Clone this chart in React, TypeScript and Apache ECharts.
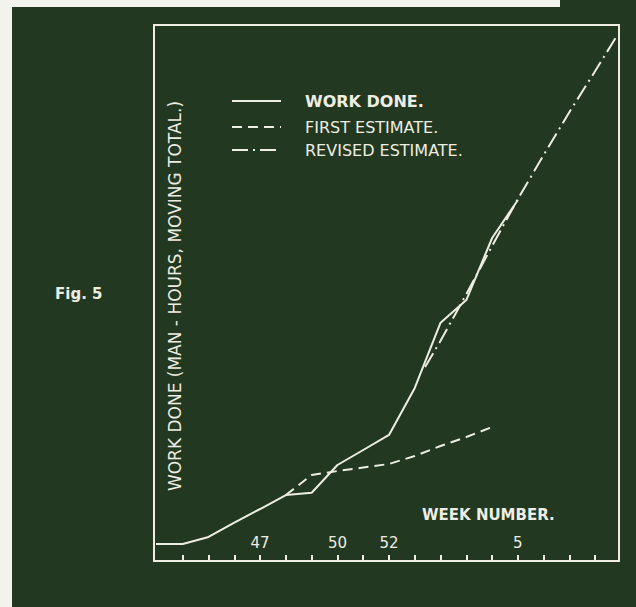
import React, { useEffect, useRef } from "react";
import * as echarts from "echarts";

// Week numbers along the axis (index 0 = week 43 ... index 18 = week 9)
const weekLabels = ["43", "44", "45", "46", "47", "48", "49", "50", "51", "52", "1", "2", "3", "4", "5", "6", "7", "8", "9"];
const tickIndices = [1, 2, 3, 4, 5, 6, 7, 8, 9, 10, 11, 12, 13, 14, 15, 16, 17];
const labelIndices = [4, 7, 9, 14];

// Work done (moving total), arbitrary units 0..100
const workDoneX = [-0.12, 1, 2, 3, 4, 5, 6, 7, 8, 9, 10, 11, 12, 13, 14];
const workDoneY = [3.17, 3.17, 4.48, 7.16, 9.7, 12.31, 12.74, 17.91, 20.71, 23.51, 32.28, 44.46, 48.69, 60.26, 67.35];

const firstEstX = [5, 6, 7, 8, 9, 10, 11, 12, 13];
const firstEstY = [12.31, 16.04, 16.79, 17.44, 18.1, 19.59, 21.46, 23.13, 25.0];

const revisedX = [10.4, 11, 12, 13, 14, 15, 16, 17, 17.86];
const revisedY = [36.19, 41.1, 49.8, 58.77, 67.54, 75.75, 83.77, 91.42, 98.13];

const legendNames = ["WORK DONE.", "FIRST ESTIMATE.", "REVISED ESTIMATE."];
const yAxisTitle = "WORK DONE (MAN - HOURS, MOVING TOTAL.)";
const xAxisTitle = "WEEK NUMBER.";
const figLabel = "Fig. 5";

const INK = "#eeede3";
const BG = "#223820";
const FONT = "DejaVu Sans";

export default function App() {
  const ref = useRef<HTMLDivElement>(null);
  useEffect(() => {
    if (!ref.current) return;
    const chart = echarts.init(ref.current, undefined, { renderer: "svg" });
    const zip = (xs: number[], ys: number[]) => xs.map((x, i) => [x, ys[i]]);
    const dashes: (number[] | null)[] = [null, [10, 6], [16, 5, 2, 5]];
    const legendYs = [101, 127, 150];
    const legendGraphics: any[] = [];
    legendNames.forEach((name, i) => {
      legendGraphics.push({
        type: "line",
        shape: { x1: 232, y1: legendYs[i], x2: 281, y2: legendYs[i] },
        style: { stroke: INK, lineWidth: 2, lineDash: dashes[i] || undefined },
      });
      legendGraphics.push({
        type: "text",
        x: 305,
        y: legendYs[i],
        style: {
          text: name,
          fill: INK,
          font: `${i === 0 ? "bold " : ""}16px "${FONT}"`,
          textAlign: "left",
          textVerticalAlign: "middle",
        },
      });
    });
    chart.setOption({
      animation: false,
      backgroundColor: BG,
      grid: { left: 157, top: 25, width: 464, height: 536 },
      xAxis: {
        type: "value",
        min: 0,
        max: 18,
        interval: 1,
        axisLine: { show: false },
        splitLine: { show: false },
        axisTick: {
          show: true,
          inside: true,
          length: 6,
          lineStyle: { color: INK, width: 2 },
          customValues: tickIndices,
        },
        axisLabel: {
          show: true,
          inside: true,
          margin: 11,
          color: INK,
          fontSize: 15,
          fontFamily: FONT,
          customValues: labelIndices,
          formatter: (v: number) => weekLabels[Math.round(v)] ?? "",
        },
      },
      yAxis: { type: "value", min: 0, max: 100, show: false },
      series: [
        {
          name: legendNames[0],
          type: "line",
          data: zip(workDoneX, workDoneY),
          showSymbol: false,
          symbol: "none",
          clip: false,
          lineStyle: { color: INK, width: 2 },
        },
        {
          name: legendNames[1],
          type: "line",
          data: zip(firstEstX, firstEstY),
          symbol: "none",
          lineStyle: { color: INK, width: 2, type: [10, 6] },
        },
        {
          name: legendNames[2],
          type: "line",
          data: zip(revisedX, revisedY),
          symbol: "none",
          clip: false,
          lineStyle: { color: INK, width: 2, type: [16, 5, 2, 5] },
        },
      ],
      graphic: [
        { type: "rect", shape: { x: 0, y: 0, width: 12, height: 607 }, style: { fill: "#f3f3ee" } },
        { type: "rect", shape: { x: 0, y: 0, width: 560, height: 7 }, style: { fill: "#f3f3ee" } },
        {
          type: "rect",
          shape: { x: 154, y: 25, width: 465, height: 536 },
          style: { fill: "none", stroke: INK, lineWidth: 2 },
        },
        {
          type: "text",
          x: 175,
          y: 296,
          rotation: Math.PI / 2,
          style: {
            text: yAxisTitle,
            fill: INK,
            font: `17px "${FONT}"`,
            textAlign: "center",
            textVerticalAlign: "middle",
          },
        },
        {
          type: "text",
          x: 422,
          y: 515,
          style: {
            text: xAxisTitle,
            fill: INK,
            font: `bold 15px "${FONT}"`,
            textAlign: "left",
            textVerticalAlign: "middle",
          },
        },
        {
          type: "text",
          x: 55,
          y: 294,
          style: {
            text: figLabel,
            fill: INK,
            font: `bold 15px "${FONT}"`,
            textAlign: "left",
            textVerticalAlign: "middle",
          },
        },
        ...legendGraphics,
      ],
    });
    return () => chart.dispose();
  }, []);
  return <div ref={ref} style={{ position: "fixed", left: 0, top: 0, width: 636, height: 607 }} />;
}
